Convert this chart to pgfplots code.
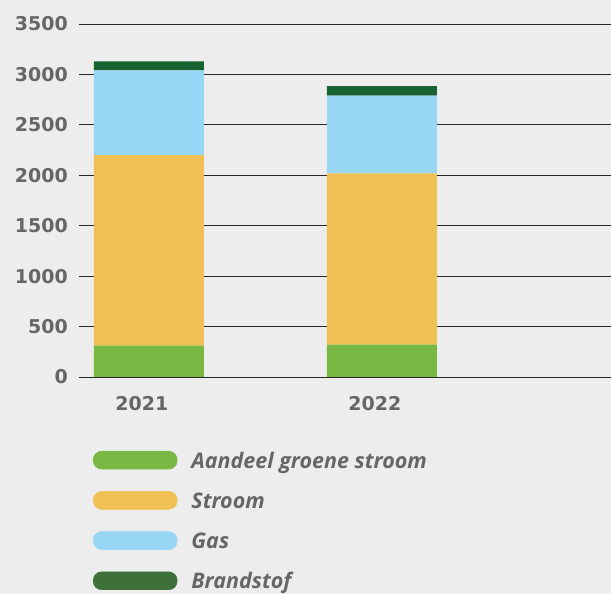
\documentclass[border=0pt]{standalone}
\usepackage{fontspec}
\setmainfont{Open Sans}
\newfontfamily\numfont{DejaVu Sans}
\usepackage{pgfplots}
\pgfplotsset{compat=1.18}

\definecolor{bg}{HTML}{EDEDED}
\definecolor{groen}{HTML}{7AB844}
\definecolor{stroom}{HTML}{F0C054}
\definecolor{gas}{HTML}{98D6F6}
\definecolor{brand}{HTML}{176331}
\definecolor{brandleg}{HTML}{3E7039}
\definecolor{txt}{HTML}{666666}

\begin{document}
\begin{tikzpicture}
\fill[bg] (0,0) rectangle (611pt,594pt);
\begin{axis}[
  at={(79pt,217pt)}, anchor=south west,
  scale only axis, width=532pt, height=353pt,
  xmin=-0.3, xmax=1.983, ymin=0, ymax=3500,
  ytick distance=500,
  xtick={0,1}, xticklabels={2021,2022},
  axis line style={draw=none},
  major tick length=0pt,
  ymajorgrids,
  grid style={black!85, line width=0.8pt},
  /pgf/number format/assume math mode=true,
  /pgf/number format/1000 sep={},
  tick label style={font=\numfont\bfseries\fontsize{19}{19}\selectfont, text=txt, inner sep=0pt},
  yticklabel style={xshift=-11pt},
  xticklabel style={anchor=center, yshift=-27pt, xshift=-7pt},
  ybar stacked, bar width=110pt,
  legend style={at={(axis description cs:0.0263,-0.2096)}, anchor=north west,
    draw=none, fill=none, inner sep=0pt, outer sep=0pt,
    row sep=19pt, column sep=14pt,
    nodes={inner sep=0pt, text height=14pt, text depth=4pt,
      font=\bfseries\itshape\fontsize{21.5}{21.5}\selectfont, text=txt}},
  legend cell align=left,
]
\addplot[fill=groen, draw=none, forget plot] coordinates {(0,310) (1,320)};
\addplot[fill=stroom, draw=none, forget plot] coordinates {(0,1890) (1,1700)};
\addplot[fill=gas, draw=none, forget plot] coordinates {(0,840) (1,770)};
\addplot[fill=brand, draw=none, forget plot] coordinates {(0,90) (1,95)};
\addlegendimage{legend image code/.code={\fill[groen, rounded corners=8.5pt] (0pt,-6pt) rectangle (84pt,12pt);}}
\addlegendentry{Aandeel groene stroom}
\addlegendimage{legend image code/.code={\fill[stroom, rounded corners=8.5pt] (0pt,-6pt) rectangle (84pt,12pt);}}
\addlegendentry{Stroom}
\addlegendimage{legend image code/.code={\fill[gas, rounded corners=8.5pt] (0pt,-6pt) rectangle (84pt,12pt);}}
\addlegendentry{Gas}
\addlegendimage{legend image code/.code={\fill[brandleg, rounded corners=8.5pt] (0pt,-6pt) rectangle (84pt,12pt);}}
\addlegendentry{Brandstof}
\end{axis}
\pgfresetboundingbox
\path[use as bounding box] (0,0) rectangle (611pt,594pt);
\end{tikzpicture}
\end{document}
